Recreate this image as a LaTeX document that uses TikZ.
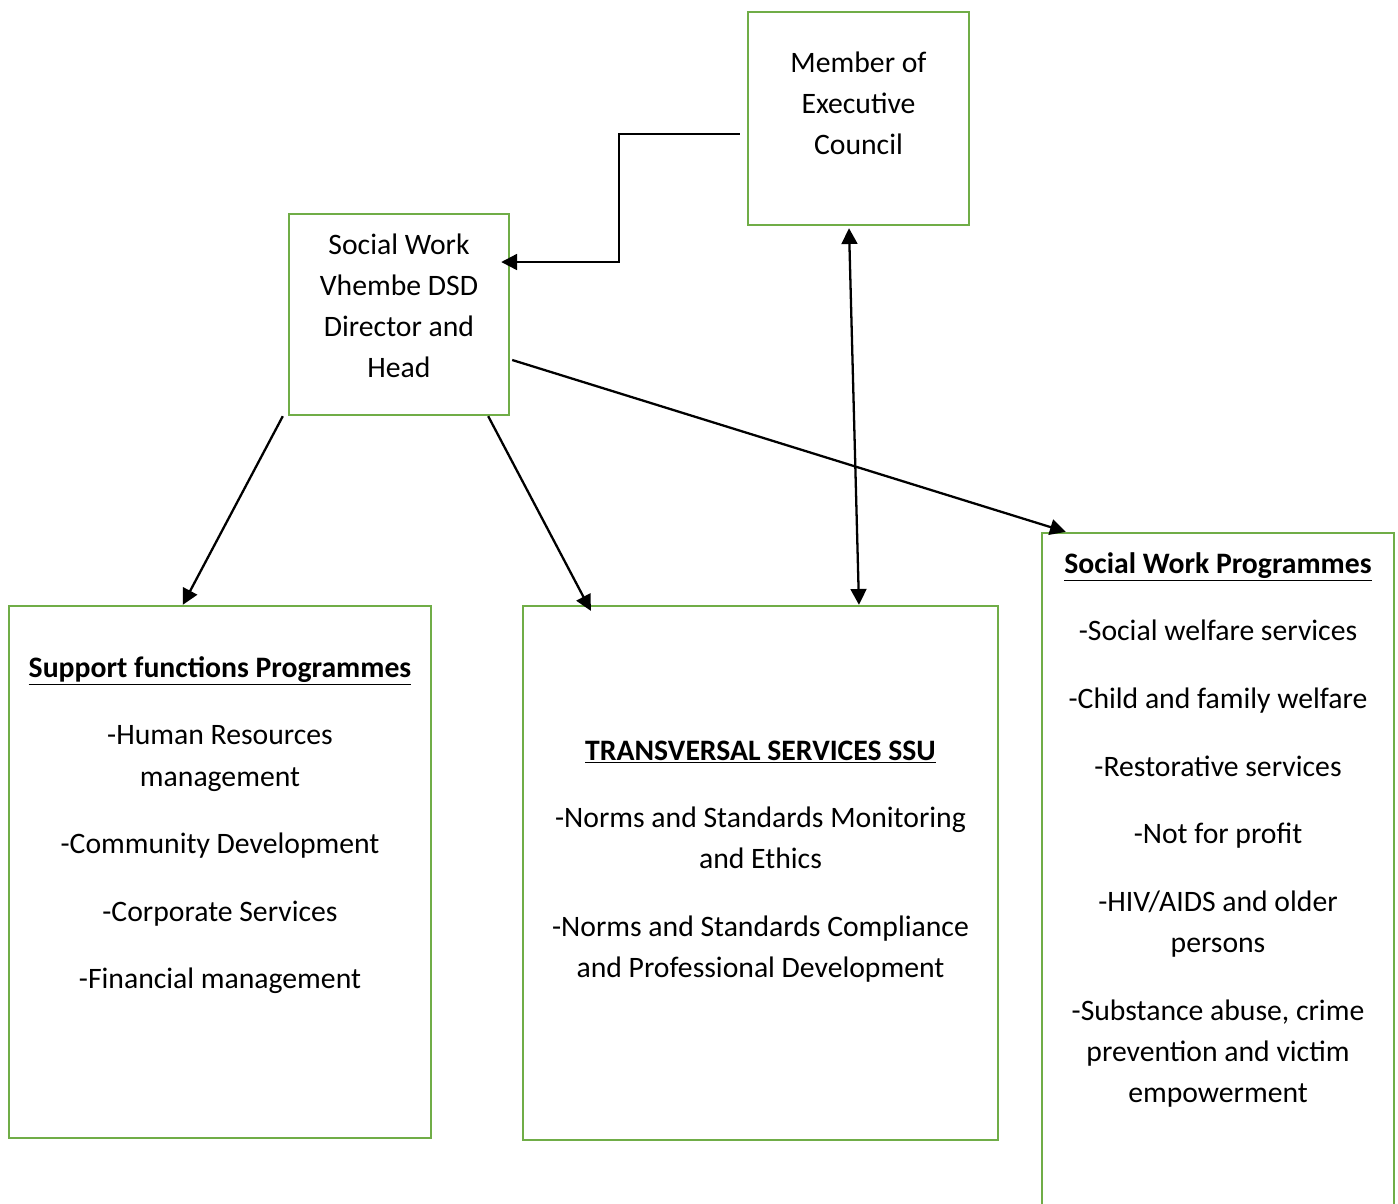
\documentclass[tikz,border=0pt]{standalone}
\usepackage{fontspec}
\setmainfont{Carlito}
\usepackage{xcolor}
\usetikzlibrary{arrows.meta,positioning}
\definecolor{boxgreen}{RGB}{112,173,71}

\tikzset{
  orgbox/.style={draw=boxgreen,line width=1.4pt,inner sep=0pt},
  boxtext/.style={anchor=north,inner sep=0pt,align=center,font=\fontsize{16.9}{23.5}\selectfont},
  conn/.style={line width=1.3pt,-{Triangle[length=9pt,width=9pt]}},
}

\begin{document}
\begin{tikzpicture}[x=0.02cm,y=-0.02cm]
    % page frame
    \clip (0,0) rectangle (1398,1203);
    % boxes
    \node[orgbox,minimum width=4.42cm,minimum height=4.26cm] (mec) at (858.5,118.5) {};
    \node[orgbox,minimum width=4.4cm,minimum height=4.02cm] (sw) at (399,314.5) {};
    \node[orgbox,minimum width=8.44cm,minimum height=10.64cm] (sup) at (220,872) {};
    \node[orgbox,minimum width=9.5cm,minimum height=10.68cm] (trans) at (760.5,873) {};
    \node[orgbox,minimum width=7.04cm,minimum height=14.68cm] (swp) at (1218,900) {};
    % texts
    \node[boxtext,below=0.64cm of mec.north] (mectext) {\strut Member of\\Executive\\Council};
    \node[boxtext,below=0.24cm of sw.north] (swtext) {\strut Social Work\\Vhembe DSD\\Director and\\Head};
    \node[boxtext,below=0.86cm of sup.north] (suptext) {\strut\textbf{\underline{Support functions Programmes}}\\[15pt]
        -Human Resources\\management\\[15pt]
        -Community Development\\[15pt]
        -Corporate Services\\[15pt]
        -Financial management};
    \node[boxtext,below=2.52cm of trans.north] (transtext) {\strut\textbf{\underline{TRANSVERSAL SERVICES SSU}}\\[15pt]
        -Norms and Standards Monitoring\\and Ethics\\[15pt]
        -Norms and Standards Compliance\\and Professional Development};
    \node[boxtext,below=0.24cm of swp.north] (swptext) {\strut\textbf{\underline{Social Work Programmes}}\\[15pt]
        -Social welfare services\\[15pt]
        -Child and family welfare\\[15pt]
        -Restorative services\\[15pt]
        -Not for profit\\[15pt]
        -HIV/AIDS and older\\persons\\[15pt]
        -Substance abuse, crime\\prevention and victim\\empowerment};
    % connectors
    \draw[conn] ([shift={(-0.14cm,-0.31cm)}]mec.west) -- ++(-121,0) |- ([xshift=-0.18cm,yshift=1.05cm]sw.east);
    \draw[conn] ([xshift=-0.1cm]sw.south west) -- ([xshift=3.5cm]sup.north west);
    \draw[conn] ([xshift=-0.44cm]sw.south east) -- ([shift={(1.38cm,-0.12cm)}]trans.north west);
    \draw[conn] ([shift={(0.04cm,-0.91cm)}]sw.east) -- ([xshift=0.5cm]swp.north west);
    \draw[conn,{Triangle[length=9pt,width=9pt]}-{Triangle[length=9pt,width=9pt]}] ([shift={(-0.19cm,-0.04cm)}]mec.south) -- ([xshift=1.97cm]trans.north);
\end{tikzpicture}
\end{document}
